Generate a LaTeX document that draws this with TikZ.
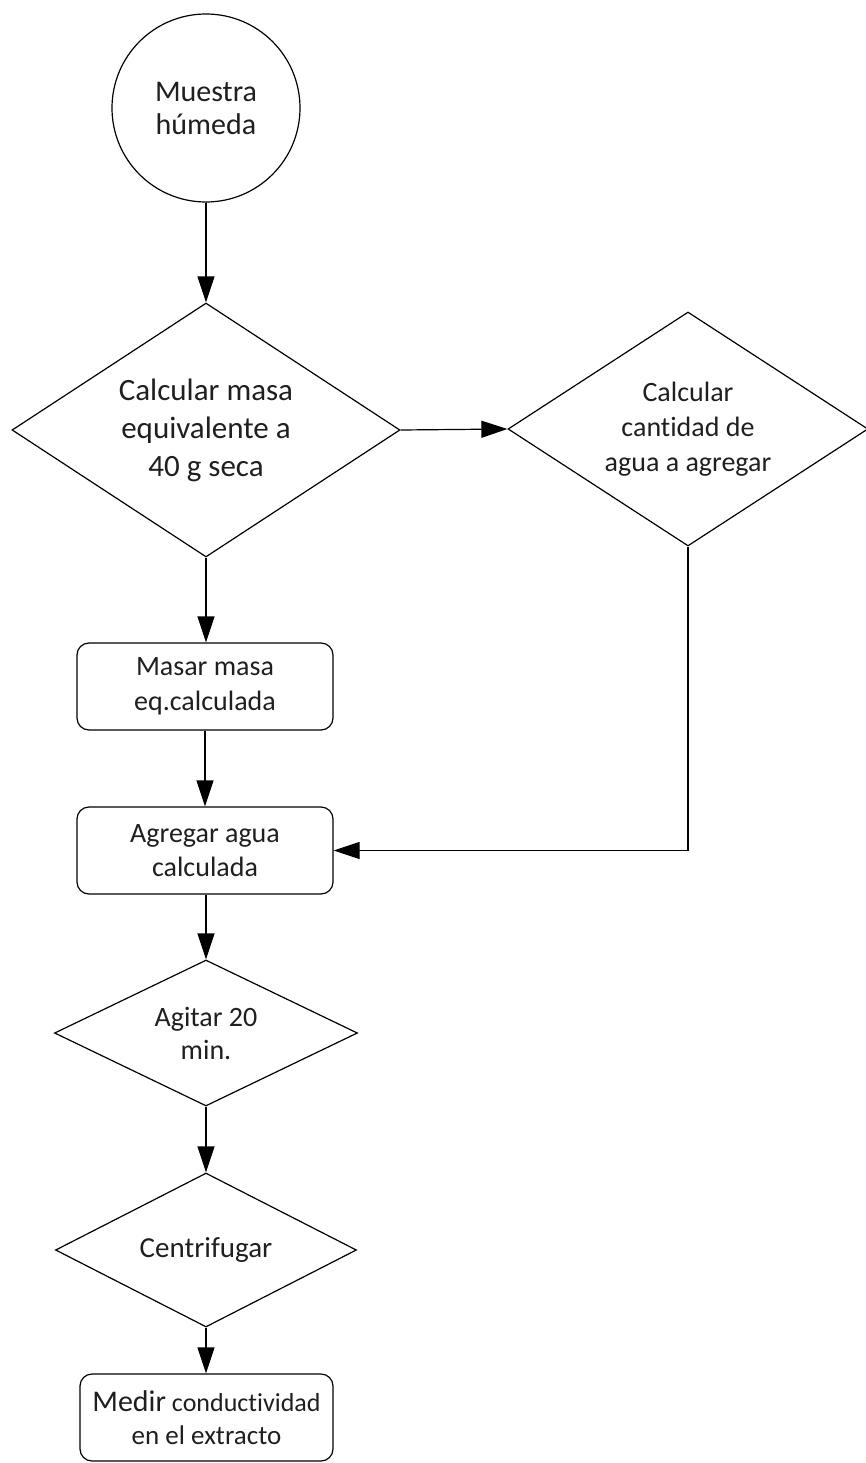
\documentclass[tikz,border=0pt]{standalone}
\usepackage{fontspec}
\setmainfont{Carlito}[Ligatures=NoCommon]
\usetikzlibrary{shapes.geometric,arrows.meta}

\newcommand{\fsz}[2]{\fontsize{#1}{#2}\selectfont}

\tikzset{
  base/.style={draw=black, line width=1.2pt, text=black!88, align=center, inner sep=0pt},
  startcircle/.style={base, circle, minimum size=188pt},
  decision/.style={base, diamond},
  procbox/.style={base, rectangle, rounded corners=12pt, minimum width=256pt, minimum height=87pt},
  flow/.style={draw=black, line width=1.2pt, -{Triangle[width=17pt,length=26pt]}},
}

\begin{document}
\begin{tikzpicture}[x=1pt, y=-1pt]
  \useasboundingbox (0,0) rectangle (865,1463);

  % start
  \node[startcircle, font=\fsz{30}{33}] (muestra) at (206,108)
    {Muestra\\húmeda};

  % decisions on the main line and the side branch
  \node[decision, aspect=1.53, minimum width=388pt, minimum height=254pt, font=\fsz{31}{38}]
    (calcmasa) at (206,430) {Calcular masa\\equivalente a\\40 g seca};
  \node[decision, aspect=1.55, minimum width=360pt, minimum height=234pt, font=\fsz{28}{35}]
    (calcagua) at (688,429) {Calcular\\cantidad de\\agua a agregar};

  % process steps
  \node[procbox, font=\fsz{28}{35}] (masar) at (205,686.5) {Masar masa\\eq.calculada};
  \node[procbox, font=\fsz{28}{34}] (agregar) at (205,850.5) {Agregar agua\\calculada};

  \node[decision, aspect=2.07, minimum width=303pt, minimum height=146pt, font=\fsz{28}{33}]
    (agitar) at (206,1033) {Agitar 20\\min.};
  \node[decision, aspect=1.96, minimum width=301pt, minimum height=154pt, font=\fsz{29}{34}]
    (centrif) at (206,1250) {Centrifugar};

  \node[procbox, minimum width=253pt, font=\fsz{26}{33}] (medir) at (206.5,1417.5)
    {{\fsz{30}{33}Medir} conductividad\\{\fsz{27}{33}en el extracto}};

  % connectors
  \draw[flow] (muestra) -- (calcmasa.north);
  \draw[flow] (calcmasa.east) -- (calcagua.west);
  \draw[flow] (calcmasa.south) -- (masar.north -| calcmasa.south);
  \draw[flow] (masar) -- (agregar);
  \draw[flow] (calcagua.south) |- (agregar.east);
  \draw[flow] (agregar.south -| agitar.north) -- (agitar.north);
  \draw[flow] (agitar.south) -- (centrif.north);
  \draw[flow] (centrif.south) -- (medir.north -| centrif.south);
\end{tikzpicture}
\end{document}
